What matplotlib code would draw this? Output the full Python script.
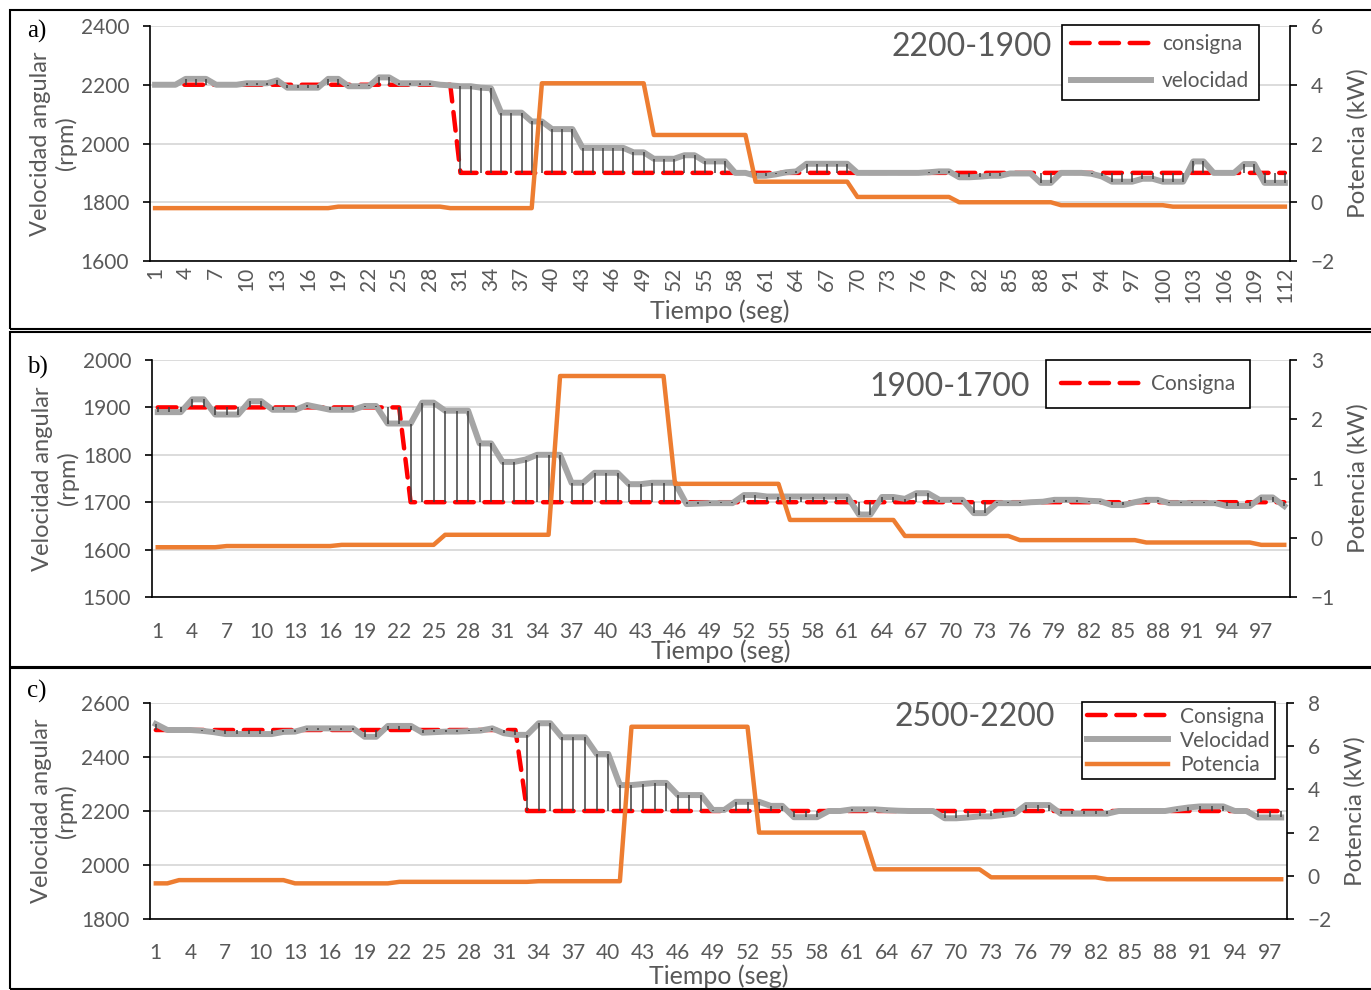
import matplotlib.pyplot as plt
from matplotlib.patches import Rectangle
from matplotlib.lines import Line2D

# =============================================================
# DATA
# =============================================================

# a) 2200-1900, 112 samples
vel_a = [2200, 2200, 2200, 2220, 2220, 2220, 2200, 2200, 2200, 2205,
         2205, 2205, 2215, 2190, 2190, 2190, 2190, 2220, 2220, 2195,
         2195, 2195, 2225, 2225, 2205, 2205, 2205, 2205, 2200, 2198,
         2195, 2195, 2190, 2188, 2105, 2105, 2105, 2075, 2075, 2049,
         2049, 2049, 1985, 1985, 1985, 1985, 1985, 1970, 1970, 1948,
         1948, 1948, 1960, 1960, 1939, 1939, 1939, 1900, 1900, 1890,
         1890, 1895, 1902, 1905, 1931, 1931, 1931, 1931, 1931, 1900,
         1900, 1900, 1900, 1900, 1900, 1900, 1902, 1905, 1905, 1885,
         1885, 1887, 1890, 1890, 1898, 1898, 1898, 1866, 1866, 1900,
         1900, 1900, 1897, 1888, 1870, 1870, 1870, 1880, 1880, 1870,
         1870, 1870, 1939, 1939, 1900, 1900, 1900, 1930, 1930, 1866,
         1866, 1866]

cons_a = [2200, 2200, 2200, 2200, 2200, 2200, 2200, 2200, 2200, 2200,
          2200, 2200, 2200, 2200, 2200, 2200, 2200, 2200, 2200, 2200,
          2200, 2200, 2200, 2200, 2200, 2200, 2200, 2200, 2200, 2200,
          1900, 1900, 1900, 1900, 1900, 1900, 1900, 1900, 1900, 1900,
          1900, 1900, 1900, 1900, 1900, 1900, 1900, 1900, 1900, 1900,
          1900, 1900, 1900, 1900, 1900, 1900, 1900, 1900, 1900, 1900,
          1900, 1900, 1900, 1900, 1900, 1900, 1900, 1900, 1900, 1900,
          1900, 1900, 1900, 1900, 1900, 1900, 1900, 1900, 1900, 1900,
          1900, 1900, 1900, 1900, 1900, 1900, 1900, 1900, 1900, 1900,
          1900, 1900, 1900, 1900, 1900, 1900, 1900, 1900, 1900, 1900,
          1900, 1900, 1900, 1900, 1900, 1900, 1900, 1900, 1900, 1900,
          1900, 1900]

pot_a = [-0.2, -0.2, -0.2, -0.2, -0.2, -0.2, -0.2, -0.2, -0.2, -0.2,
         -0.2, -0.2, -0.2, -0.2, -0.2, -0.2, -0.2, -0.2, -0.15, -0.15,
         -0.15, -0.15, -0.15, -0.15, -0.15, -0.15, -0.15, -0.15, -0.15, -0.2,
         -0.2, -0.2, -0.2, -0.2, -0.2, -0.2, -0.2, -0.2, 4.05, 4.05,
         4.05, 4.05, 4.05, 4.05, 4.05, 4.05, 4.05, 4.05, 4.05, 2.29,
         2.29, 2.29, 2.29, 2.29, 2.29, 2.29, 2.29, 2.29, 2.29, 0.7,
         0.7, 0.7, 0.7, 0.7, 0.7, 0.7, 0.7, 0.7, 0.7, 0.18,
         0.18, 0.18, 0.18, 0.18, 0.18, 0.18, 0.18, 0.18, 0.18, 0.0,
         0.0, 0.0, 0.0, 0.0, 0.0, 0.0, 0.0, 0.0, 0.0, -0.1,
         -0.1, -0.1, -0.1, -0.1, -0.1, -0.1, -0.1, -0.1, -0.1, -0.1,
         -0.15, -0.15, -0.15, -0.15, -0.15, -0.15, -0.15, -0.15, -0.15, -0.15,
         -0.15, -0.15]

# b) 1900-1700, 99 samples
vel_b = [1890, 1890, 1890, 1917, 1917, 1885, 1885, 1885, 1913, 1913,
         1895, 1895, 1895, 1905, 1900, 1895, 1895, 1895, 1903, 1903,
         1866, 1866, 1866, 1910, 1910, 1893, 1893, 1893, 1824, 1824,
         1785, 1785, 1790, 1800, 1800, 1800, 1741, 1741, 1762, 1762,
         1762, 1738, 1738, 1741, 1741, 1741, 1696, 1697, 1698, 1698,
         1698, 1715, 1715, 1712, 1712, 1712, 1712, 1712, 1712, 1712,
         1712, 1674, 1674, 1711, 1711, 1707, 1719, 1719, 1705, 1705,
         1705, 1677, 1677, 1698, 1698, 1698, 1700, 1701, 1705, 1705,
         1705, 1703, 1702, 1694, 1694, 1700, 1705, 1705, 1698, 1698,
         1698, 1698, 1698, 1692, 1692, 1692, 1710, 1710, 1692]

cons_b = [1900, 1900, 1900, 1900, 1900, 1900, 1900, 1900, 1900, 1900,
          1900, 1900, 1900, 1900, 1900, 1900, 1900, 1900, 1900, 1900,
          1900, 1900, 1700, 1700, 1700, 1700, 1700, 1700, 1700, 1700,
          1700, 1700, 1700, 1700, 1700, 1700, 1700, 1700, 1700, 1700,
          1700, 1700, 1700, 1700, 1700, 1700, 1700, 1700, 1700, 1700,
          1700, 1700, 1700, 1700, 1700, 1700, 1700, 1700, 1700, 1700,
          1700, 1700, 1700, 1700, 1700, 1700, 1700, 1700, 1700, 1700,
          1700, 1700, 1700, 1700, 1700, 1700, 1700, 1700, 1700, 1700,
          1700, 1700, 1700, 1700, 1700, 1700, 1700, 1700, 1700, 1700,
          1700, 1700, 1700, 1700, 1700, 1700, 1700, 1700, 1700]

pot_b = [-0.16, -0.16, -0.16, -0.16, -0.16, -0.16, -0.14, -0.14, -0.14, -0.14,
         -0.14, -0.14, -0.14, -0.14, -0.14, -0.14, -0.12, -0.12, -0.12, -0.12,
         -0.12, -0.12, -0.12, -0.12, -0.12, 0.05, 0.05, 0.05, 0.05, 0.05,
         0.05, 0.05, 0.05, 0.05, 0.05, 2.73, 2.73, 2.73, 2.73, 2.73,
         2.73, 2.73, 2.73, 2.73, 2.73, 0.91, 0.91, 0.91, 0.91, 0.91,
         0.91, 0.91, 0.91, 0.91, 0.91, 0.30, 0.30, 0.30, 0.30, 0.30,
         0.30, 0.30, 0.30, 0.30, 0.30, 0.03, 0.03, 0.03, 0.03, 0.03,
         0.03, 0.03, 0.03, 0.03, 0.03, -0.04, -0.04, -0.04, -0.04, -0.04,
         -0.04, -0.04, -0.04, -0.04, -0.04, -0.04, -0.08, -0.08, -0.08, -0.08,
         -0.08, -0.08, -0.08, -0.08, -0.08, -0.08, -0.12, -0.12, -0.12]

# c) 2500-2200, 98 samples
vel_c = [2522, 2500, 2500, 2500, 2497, 2492, 2485, 2485, 2485, 2485,
         2485, 2493, 2494, 2506, 2506, 2506, 2506, 2506, 2475, 2475,
         2515, 2515, 2515, 2490, 2492, 2494, 2494, 2496, 2498, 2506,
         2488, 2482, 2482, 2525, 2525, 2473, 2473, 2473, 2411, 2411,
         2296, 2296, 2300, 2304, 2304, 2259, 2259, 2259, 2204, 2204,
         2234, 2234, 2234, 2219, 2219, 2177, 2177, 2177, 2200, 2200,
         2206, 2206, 2206, 2203, 2201, 2200, 2200, 2200, 2173, 2173,
         2176, 2180, 2180, 2185, 2190, 2222, 2222, 2222, 2190, 2190,
         2190, 2190, 2190, 2200, 2200, 2200, 2200, 2200, 2207, 2213,
         2217, 2217, 2217, 2200, 2200, 2176, 2176, 2176]

cons_c = [2500, 2500, 2500, 2500, 2500, 2500, 2500, 2500, 2500, 2500,
          2500, 2500, 2500, 2500, 2500, 2500, 2500, 2500, 2500, 2500,
          2500, 2500, 2500, 2500, 2500, 2500, 2500, 2500, 2500, 2500,
          2500, 2500, 2200, 2200, 2200, 2200, 2200, 2200, 2200, 2200,
          2200, 2200, 2200, 2200, 2200, 2200, 2200, 2200, 2200, 2200,
          2200, 2200, 2200, 2200, 2200, 2200, 2200, 2200, 2200, 2200,
          2200, 2200, 2200, 2200, 2200, 2200, 2200, 2200, 2200, 2200,
          2200, 2200, 2200, 2200, 2200, 2200, 2200, 2200, 2200, 2200,
          2200, 2200, 2200, 2200, 2200, 2200, 2200, 2200, 2200, 2200,
          2200, 2200, 2200, 2200, 2200, 2200, 2200, 2200]

pot_c = [-0.35, -0.35, -0.2, -0.2, -0.2, -0.2, -0.2, -0.2, -0.2, -0.2,
         -0.2, -0.2, -0.35, -0.35, -0.35, -0.35, -0.35, -0.35, -0.35, -0.35,
         -0.35, -0.28, -0.28, -0.28, -0.28, -0.28, -0.28, -0.28, -0.28, -0.28,
         -0.28, -0.28, -0.28, -0.25, -0.25, -0.25, -0.25, -0.25, -0.25, -0.25,
         -0.25, 6.9, 6.9, 6.9, 6.9, 6.9, 6.9, 6.9, 6.9, 6.9,
         6.9, 6.9, 2.0, 2.0, 2.0, 2.0, 2.0, 2.0, 2.0, 2.0,
         2.0, 2.0, 0.3, 0.3, 0.3, 0.3, 0.3, 0.3, 0.3, 0.3,
         0.3, 0.3, -0.07, -0.07, -0.07, -0.07, -0.07, -0.07, -0.07, -0.07,
         -0.07, -0.07, -0.16, -0.16, -0.16, -0.16, -0.16, -0.16, -0.16, -0.16,
         -0.16, -0.16, -0.16, -0.16, -0.16, -0.16, -0.16, -0.16]


# =============================================================
# STYLE
# =============================================================

W, H = 1371, 990
TXT = '#595959'
RED = '#FF0000'
GREY = '#A5A5A5'
ORANGE = '#ED7D31'
DASH = (0, (4.2, 2.4))

plt.rcParams['font.family'] = ['Lato', 'DejaVu Sans']

fig = plt.figure(figsize=(W / 100, H / 100), dpi=100)


def box(left, top, right, bottom):
    return [left / W, 1 - bottom / H, (right - left) / W, (bottom - top) / H]


def h_cons():
    return Line2D([], [], color=RED, lw=3.2, ls=DASH, dash_capstyle='round')


def h_vel():
    return Line2D([], [], color=GREY, lw=4.3)


def h_pot():
    return Line2D([], [], color=ORANGE, lw=3.2)


def panel(rect, cons, vel, pot, ylim, yticks, ylim2, yticks2,
          rotate, xpad, xlab_y):
    n = len(vel)
    t = list(range(1, n + 1))

    ax = fig.add_axes(box(*rect))
    ax.plot(t, cons, color=RED, lw=3.2, ls=DASH,
            dash_capstyle='round', zorder=2)
    ax.plot(t, vel, color=GREY, lw=4.3, zorder=3, solid_joinstyle='round')
    lo = [min(c, v) for c, v in zip(cons, vel)]
    hi = [max(c, v) for c, v in zip(cons, vel)]
    ax.vlines(t, lo, hi, color='#404040', lw=1.1, zorder=4)

    ax.set_xlim(0.5, n + 0.5)
    ax.set_ylim(*ylim)
    ax.set_yticks(yticks)
    ax.set_xticks(t[::3])
    ax.set_xticklabels([str(i) for i in t[::3]],
                       rotation=90 if rotate else 0)
    ax.tick_params(axis='x', length=0, pad=xpad, labelsize=15,
                   labelcolor=TXT)
    ax.tick_params(axis='y', direction='out', length=5, width=1.2,
                   pad=10, labelsize=15, labelcolor=TXT)
    ax.yaxis.grid(True, color='#D9D9D9', lw=1.3)
    ax.set_axisbelow(True)
    for s in ['top', 'right']:
        ax.spines[s].set_visible(False)
    for s in ['left', 'bottom']:
        ax.spines[s].set_linewidth(1.2)

    ax.set_ylabel('Velocidad angular\n(rpm)', fontsize=17, color=TXT,
                  linespacing=1.2)
    ax.yaxis.set_label_coords(-0.064, 0.5)
    ax.set_xlabel('Tiempo (seg)', fontsize=18, color=TXT,
                  bbox=dict(facecolor='white', edgecolor='none', pad=0.5))
    ax.xaxis.set_label_coords(0.5, xlab_y)

    ax2 = ax.twinx()
    ax2.plot(t, pot, color=ORANGE, lw=3.2, zorder=5,
             solid_joinstyle='round')
    ax2.set_ylim(*ylim2)
    ax2.set_yticks(yticks2)
    ax2.tick_params(axis='y', direction='out', length=5, width=1.2,
                    pad=10, labelsize=15, labelcolor=TXT)
    for s in ['top', 'left', 'bottom']:
        ax2.spines[s].set_visible(False)
    ax2.spines['right'].set_linewidth(1.2)
    ax2.set_ylabel('Potencia (kW)', fontsize=17.5, color=TXT)
    ax2.yaxis.set_label_coords(1.05, 0.5)
    return ax, ax2


def legend(ax2, handles, labels, anchor, spacing, pad, hlen):
    leg = ax2.legend(handles, labels, loc='upper left', bbox_to_anchor=anchor,
                     fontsize=15, handlelength=hlen, handletextpad=0.55,
                     labelspacing=spacing, borderpad=pad, frameon=True,
                     fancybox=False, framealpha=1, borderaxespad=0)
    leg.get_frame().set_edgecolor('black')
    leg.get_frame().set_linewidth(1.2)
    for txt in leg.get_texts():
        txt.set_color(TXT)


# =============================================================
# PANELS
# =============================================================

# panel frames
for top, bottom in [(10, 329), (332, 667), (668, 989)]:
    fig.patches.append(Rectangle((10 / W, 1 - bottom / H), 1.0,
                                 (bottom - top) / H, fill=False,
                                 edgecolor='black', lw=1.5,
                                 transform=fig.transFigure))

# a)
ax_a, ax2_a = panel((150, 26, 1290, 261), cons_a, vel_a, pot_a,
                    (1600, 2400), [1600, 1800, 2000, 2200, 2400],
                    (-2, 6), [-2, 0, 2, 4, 6],
                    True, 4, -0.165)
legend(ax2_a, [h_cons(), h_vel()], ['consigna', 'velocidad'],
       (0.80, 1.004), 0.8, 0.45, 3.8)

# b)
ax_b, ax2_b = panel((152, 360, 1290, 597), cons_b, vel_b, pot_b,
                    (1500, 2000), [1500, 1600, 1700, 1800, 1900, 2000],
                    (-1, 3), [-1, 0, 1, 2, 3],
                    False, 18, -0.18)
legend(ax2_b, [h_cons()], ['Consigna'], (0.786, 1.0), 0.5, 0.68, 3.8)

# c)
ax_c, ax2_c = panel((150, 703, 1287, 919), cons_c, vel_c, pot_c,
                    (1800, 2600), [1800, 2000, 2200, 2400, 2600],
                    (-2, 8), [-2, 0, 2, 4, 6, 8],
                    False, 17, -0.212)
legend(ax2_c, [h_cons(), h_vel(), h_pot()],
       ['Consigna', 'Velocidad', 'Potencia'], (0.82, 1.005), 0.2, 0.22, 3.9)

# titles inside the charts
for txt, x, y in [('2200-1900', 1052, 47), ('1900-1700', 1030, 387),
                  ('2500-2200', 1055, 717)]:
    fig.text(x / W, 1 - y / H, txt, ha='right', va='center',
             fontsize=23, color=TXT)

# panel letters
for txt, y in [('a)', 31), ('b)', 367), ('c)', 691)]:
    fig.text(27 / W, 1 - y / H, txt, ha='left', va='center',
             fontsize=18, family='Liberation Serif', color='black')

fig.savefig('out.png', dpi=100)
